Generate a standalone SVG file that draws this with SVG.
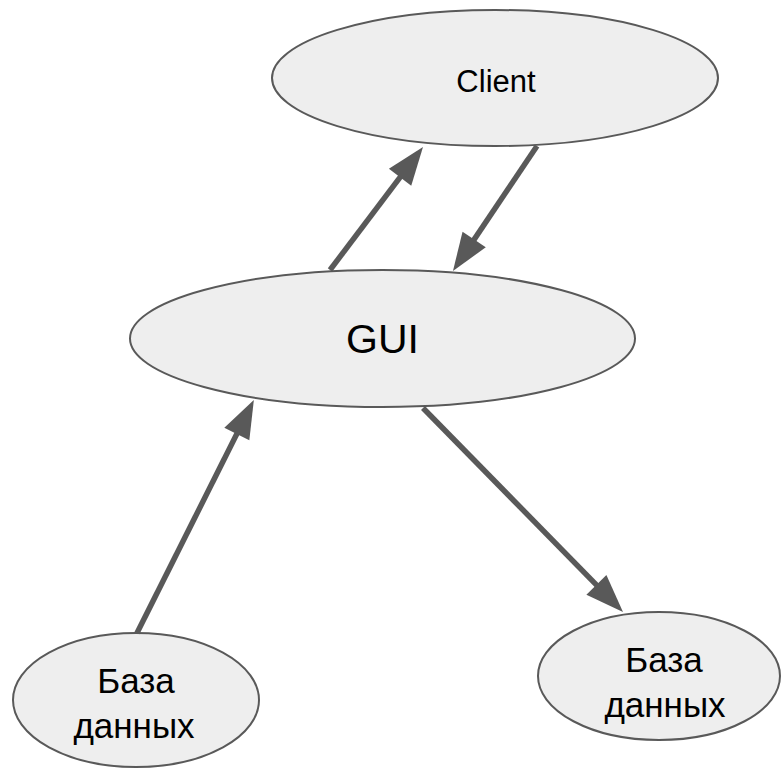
<svg xmlns="http://www.w3.org/2000/svg" width="781" height="770" viewBox="0 0 781 770">
  <style>
    .node ellipse { fill: #eeeeee; stroke: #595959; stroke-width: 2; }
    .node text { font-family: "Liberation Sans", Arial, sans-serif; fill: #000000; text-anchor: middle; }
    .edge { stroke: #595959; stroke-width: 5.5; fill: none; marker-end: url(#arrow); }
  </style>
  <defs>
    <marker id="arrow" markerUnits="userSpaceOnUse" markerWidth="38" markerHeight="28" refX="8" refY="14" orient="auto" overflow="visible">
      <path d="M0,0 L38,14 L0,28 Z" fill="#595959"/>
    </marker>
  </defs>
  <rect width="781" height="770" fill="#ffffff"/>
  <g id="client" class="node">
    <ellipse cx="495" cy="78" rx="223" ry="68"/>
    <text x="496" y="92" font-size="31">Client</text>
  </g>
  <g id="gui" class="node">
    <ellipse cx="382.5" cy="338.5" rx="252.5" ry="68.5"/>
    <text x="382.5" y="353" font-size="41">GUI</text>
  </g>
  <g id="db-left" class="node">
    <ellipse cx="136" cy="700" rx="123" ry="67"/>
    <text x="136" y="693" font-size="35">База</text>
    <text x="134" y="738" font-size="35">данных</text>
  </g>
  <g id="db-right" class="node">
    <ellipse cx="659" cy="676" rx="121" ry="64"/>
    <text x="664" y="672" font-size="35">База</text>
    <text x="665" y="717" font-size="35">данных</text>
  </g>
  <g id="connectors">
    <line class="edge" x1="330" y1="270" x2="404.9" y2="170.9"/>
    <line class="edge" x1="537" y1="146" x2="469.7" y2="246.1"/>
    <line class="edge" x1="137" y1="633" x2="240.4" y2="426.8"/>
    <line class="edge" x1="423" y1="408" x2="602" y2="590.6"/>
  </g>
</svg>
